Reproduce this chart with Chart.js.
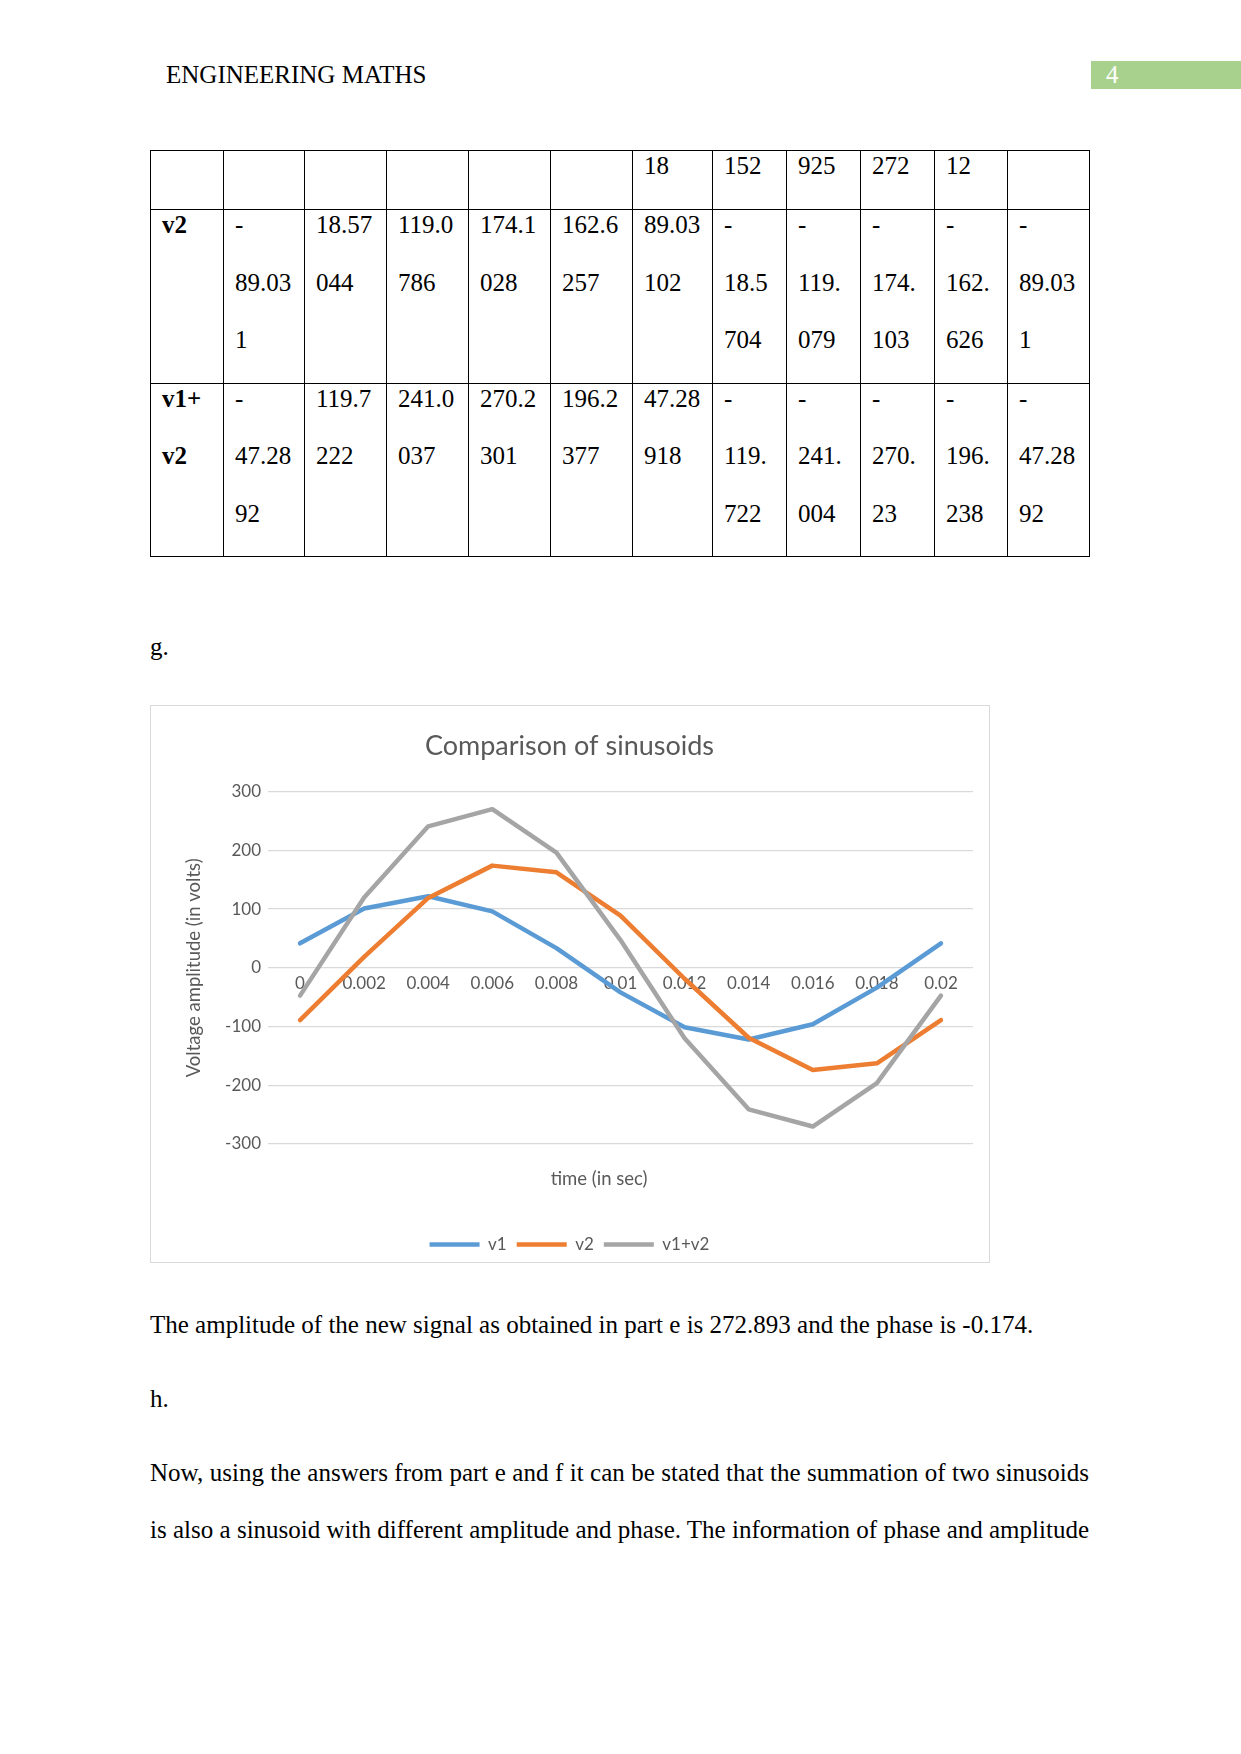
<!DOCTYPE html>
<html><head><meta charset="utf-8">
<script src="https://cdn.jsdelivr.net/npm/chart.js@4.4.1/dist/chart.umd.min.js"></script>
<style>
html,body{margin:0;padding:0;background:#fff;}
body{width:1241px;height:1754px;position:relative;overflow:hidden;font-family:"Liberation Serif","Times New Roman",serif;font-size:25px;color:#000;}
.t{position:absolute;left:150px;line-height:30px;white-space:nowrap;}
.j{white-space:normal;width:939px;text-align:justify;text-align-last:justify;}
#pn{position:absolute;left:1091px;top:61px;width:150px;height:28px;background:#A9D18E;}
#pn span{position:absolute;left:15px;top:0px;line-height:28px;color:#fff;}
table{position:absolute;left:150px;top:150px;border-collapse:collapse;table-layout:fixed;}
td{border:1px solid #000;padding:0 0 0 11px;vertical-align:top;white-space:nowrap;overflow:visible;}
td div{position:relative;top:-14px;line-height:57.5px;}
td.b{font-weight:bold;}
#box{position:absolute;left:150px;top:705px;width:840px;height:558px;box-sizing:border-box;border:1px solid #D9D9D9;}
#cv{position:absolute;left:151px;top:706px;}
</style>
</head>
<body>
<div class="t" style="left:166px;top:60px;">ENGINEERING MATHS</div>
<div id="pn"><span>4</span></div>

<table>
<colgroup>
<col style="width:73px"><col style="width:81px"><col style="width:82px"><col style="width:82px"><col style="width:82px"><col style="width:82px"><col style="width:80px"><col style="width:74px"><col style="width:74px"><col style="width:74px"><col style="width:73px"><col style="width:82px">
</colgroup>
<tr style="height:59px"><td></td><td></td><td></td><td></td><td></td><td></td><td><div>18</div></td><td><div>152</div></td><td><div>925</div></td><td><div>272</div></td><td><div>12</div></td><td></td></tr>
<tr style="height:173px"><td class="b"><div>v2</div></td><td><div>-<br>89.03<br>1</div></td><td><div>18.57<br>044</div></td><td><div>119.0<br>786</div></td><td><div>174.1<br>028</div></td><td><div>162.6<br>257</div></td><td><div>89.03<br>102</div></td><td><div>-<br>18.5<br>704</div></td><td><div>-<br>119.<br>079</div></td><td><div>-<br>174.<br>103</div></td><td><div>-<br>162.<br>626</div></td><td><div>-<br>89.03<br>1</div></td></tr>
<tr style="height:173px"><td class="b"><div>v1+<br>v2</div></td><td><div>-<br>47.28<br>92</div></td><td><div>119.7<br>222</div></td><td><div>241.0<br>037</div></td><td><div>270.2<br>301</div></td><td><div>196.2<br>377</div></td><td><div>47.28<br>918</div></td><td><div>-<br>119.<br>722</div></td><td><div>-<br>241.<br>004</div></td><td><div>-<br>270.<br>23</div></td><td><div>-<br>196.<br>238</div></td><td><div>-<br>47.28<br>92</div></td></tr>
</table>

<div class="t" style="top:632px;">g.</div>

<div id="box"></div>
<canvas id="cv" width="837" height="574"></canvas>

<div class="t" style="top:1310px;">The amplitude of the new signal as obtained in part e is 272.893 and the phase is -0.174.</div>
<div class="t" style="top:1384px;">h.</div>
<div class="t j" style="top:1458px;">Now, using the answers from part e and f it can be stated that the summation of two sinusoids</div>
<div class="t j" style="top:1515px;">is also a sinusoid with different amplitude and phase. The information of phase and amplitude</div>

<script>
const timeLabels = ['0','0.002','0.004','0.006','0.008','0.01','0.012','0.014','0.016','0.018','0.02'];
const v1 = [41.7418, 101.1518, 121.9251, 96.1273, 33.612, -41.7418, -101.1518, -121.9251, -96.1273, -33.612, 41.7418];
const v2 = [-89.031, 18.57044, 119.0786, 174.1028, 162.6257, 89.03102, -18.5704, -119.079, -174.103, -162.626, -89.031];
const v1v2 = [-47.2892, 119.7222, 241.0037, 270.2301, 196.2377, 47.28918, -119.722, -241.004, -270.23, -196.238, -47.2892];
const seriesNames = ['v1','v2','v1+v2'];
const seriesColors = ['#5B9BD5','#ED7D31','#A5A5A5'];
const yTicks = [-300,-200,-100,0,100,200,300];

Chart.defaults.font.family = 'Lato';
Chart.defaults.color = '#595959';

const xTitlePlugin = {
  id: 'xTitle',
  afterDraw(chart, args, opts) {
    const {ctx, chartArea, scales} = chart;
    const ys = scales.y;
    ctx.save();
    ctx.font = '17px Lato';
    let maxW = 0;
    ys.ticks.forEach(t => { maxW = Math.max(maxW, ctx.measureText(String(t.label)).width); });
    const leftEdge = chartArea.left - ys.options.ticks.padding - maxW;
    ctx.font = '18.5px Lato';
    ctx.fillStyle = '#595959';
    ctx.textAlign = 'center';
    ctx.textBaseline = 'middle';
    ctx.fillText(opts.text, (leftEdge + chartArea.right) / 2, chartArea.bottom + opts.offset);
    ctx.restore();
  }
};

const datasets = [v1, v2, v1v2].map((d, i) => ({
  label: seriesNames[i],
  data: d,
  borderColor: seriesColors[i],
  backgroundColor: seriesColors[i],
  borderWidth: 4.5,
  pointRadius: 0,
  pointHoverRadius: 0,
  tension: 0,
  borderCapStyle: 'round',
  borderJoinStyle: 'round',
  order: 3 - i
}));

new Chart(document.getElementById('cv'), {
  type: 'line',
  data: { labels: timeLabels, datasets },
  plugins: [xTitlePlugin],
  options: {
    responsive: false,
    animation: false,
    devicePixelRatio: 1,
    layout: { padding: { left: 15, right: 15, top: 0, bottom: 17 } },
    plugins: {
      title: { display: true, text: 'Comparison of sinusoids', color: '#595959',
        font: { size: 27, weight: 'normal' }, padding: { top: 24.5, bottom: 28.8 } },
      legend: { position: 'bottom',
        labels: { usePointStyle: true, pointStyle: 'line', pointStyleWidth: 50,
          font: { size: 17 }, color: '#595959', padding: 10,
          sort: (a, b) => a.datasetIndex - b.datasetIndex } },
      tooltip: { enabled: false },
      xTitle: { text: 'time (in sec)', offset: 35 }
    },
    scales: {
      x: { type: 'category', position: { y: 0 }, offset: true,
        grid: { display: false, drawTicks: false }, border: { display: false },
        ticks: { font: { size: 17 }, color: '#595959', padding: 5, maxRotation: 0, autoSkip: false } },
      x2: { type: 'category', position: 'bottom', offset: true,
        grid: { display: false, drawTicks: false }, border: { display: false },
        ticks: { display: false },
        afterFit: s => { s.height = 82; } },
      y: { min: -300, max: 300,
        afterBuildTicks: s => { s.ticks = yTicks.map(v => ({ value: v })); },
        grid: { color: '#D9D9D9', lineWidth: 1.3, drawTicks: false }, border: { display: false },
        ticks: { font: { size: 17 }, color: '#595959', padding: 7 },
        title: { display: true, text: 'Voltage amplitude (in volts)', color: '#595959',
          font: { size: 18.5 }, padding: { top: 17, bottom: 0 } },
        afterFit: s => { s.width = 102; } }
    }
  }
});
</script>
</body></html>
